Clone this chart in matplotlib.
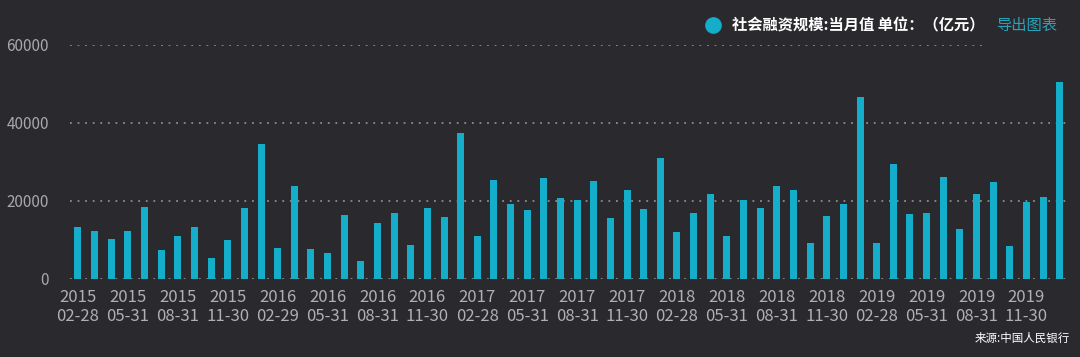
import matplotlib.pyplot as plt
import numpy as np

plt.rcParams['font.family'] = ['Noto Sans CJK SC', 'DejaVu Sans']

# monthly values, 2015-02 .. 2020-01 (亿元)
values = [13300, 12350, 10380, 12350, 18360, 7380, 11070, 13300, 5400, 10040,
          18100, 34580, 8070, 23940, 7800, 6700, 16300, 4720, 14330, 17000,
          8670, 18280, 15960, 37500, 10980, 25300, 19300, 17680, 25830, 20850,
          20250, 25230, 15620, 22910, 17930, 31150, 12010, 16990, 21880, 10980,
          20250, 18280, 23850, 22910, 9350, 16040, 19300, 46760, 9350, 29520,
          16640, 16990, 26250, 12700, 21880, 24880, 8410, 19650, 20930, 50620]
tick_years = ['2015', '2015', '2015', '2015', '2016', '2016', '2016', '2016',
              '2017', '2017', '2017', '2017', '2018', '2018', '2018', '2018',
              '2019', '2019', '2019', '2019']
tick_days = ['02-28', '05-31', '08-31', '11-30', '02-29', '05-31', '08-31', '11-30',
             '02-28', '05-31', '08-31', '11-30', '02-28', '05-31', '08-31', '11-30',
             '02-28', '05-31', '08-31', '11-30']

bg = '#2a292e'
bar_color = '#14adca'

fig = plt.figure(figsize=(10.8, 3.57), dpi=100, facecolor=bg)
ax = fig.add_axes([0.0645, 0.2185, 0.9244, 0.6555], facecolor=bg)

x = np.arange(len(values))
ax.bar(x, values, width=0.42, color=bar_color, zorder=3)

ax.set_xlim(-0.5, len(values) - 0.5)
ax.set_ylim(0, 60000)
ax.set_yticks([0, 20000, 40000, 60000])
ax.set_yticklabels(['0', '20000', '40000', '60000'])
ax.yaxis.grid(True, color='#8c8c8c', linestyle=(0, (1, 3.2)), linewidth=1.3, zorder=1)
ax.set_axisbelow(True)

ax.set_xticks(x[::3])
ax.set_xticklabels([y + '\n' + d for y, d in zip(tick_years, tick_days)],
                   linespacing=1.2)

ax.tick_params(axis='x', length=0, pad=7, labelsize=12, labelcolor='#b0b0b0')
ax.tick_params(axis='y', length=0, pad=15, labelsize=11, labelcolor='#a8a8a8')
for s in ax.spines.values():
    s.set_visible(False)

# legend-like header
fig.patches.append(plt.Rectangle((983 / 1080, 0.85), 0.1, 0.15,
                                 transform=fig.transFigure, color=bg, zorder=5))
fig.add_artist(plt.Line2D([713 / 1080], [1 - 25 / 357], marker='o', markersize=11,
                          color=bar_color, transform=fig.transFigure))
fig.text(732 / 1080, 1 - 25 / 357, '社会融资规模:当月值 单位：（亿元）', color='white',
         fontsize=11, fontweight='heavy', va='center', ha='left')
fig.text(996 / 1080, 1 - 25 / 357, '导出图表', color='#2aa3b8',
         fontsize=11, va='center', ha='left', zorder=6)
fig.text(1070 / 1080, 1 - 338 / 357, '来源:中国人民银行', color='white',
         fontsize=8.3, va='center', ha='right')

fig.savefig('out.png', dpi=100, facecolor=bg)
